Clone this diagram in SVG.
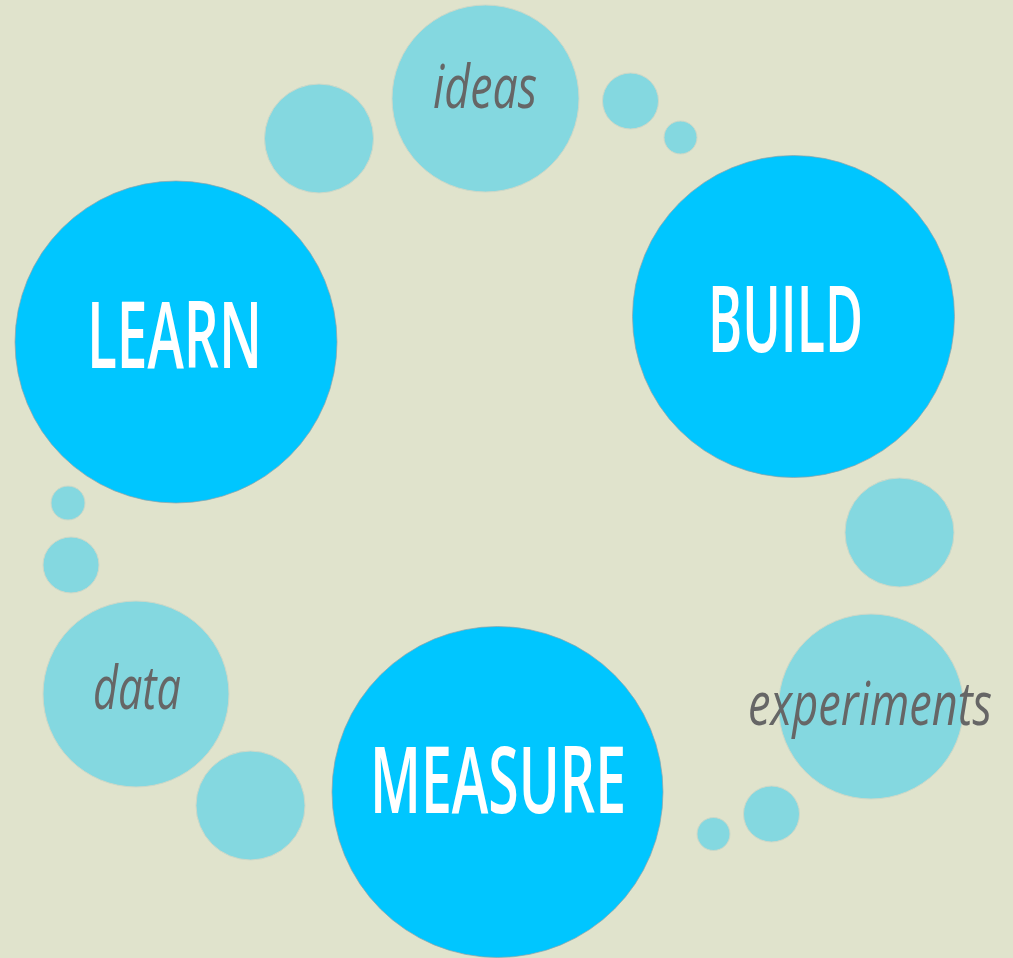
<svg xmlns="http://www.w3.org/2000/svg" width="1013" height="958" viewBox="0 0 1013 958">
<style>
.bg{fill:#E0E3CC}
.big{fill:#00C6FF;stroke:#8FA3A8;stroke-width:1;stroke-opacity:0.7}
.lite{fill:#84D8E0;stroke:#CDD8C8;stroke-width:1}
.main{font-family:"Open Sans","Liberation Sans",sans-serif;font-size:93px;fill:#FFFFFF;font-weight:600}
.lbl{font-family:"Open Sans","Liberation Sans",sans-serif;font-size:60px;font-style:italic;fill:#666666}
</style>
<rect class="bg" x="0" y="0" width="1013" height="958"/>
<g id="bubbles">
<circle class="lite" cx="630.5" cy="101" r="28"/>
<circle class="lite" cx="680.5" cy="137.5" r="16.5"/>
<circle class="lite" cx="319" cy="138.5" r="54.5"/>
<circle class="lite" cx="899.5" cy="532.5" r="54.5"/>
<circle class="lite" cx="771.5" cy="814" r="28"/>
<circle class="lite" cx="713.5" cy="834" r="16.5"/>
<circle class="lite" cx="68" cy="503" r="17"/>
<circle class="lite" cx="71" cy="565" r="28"/>
<circle class="lite" cx="250.5" cy="805.5" r="54.5"/>
</g>
<g id="ideas">
<circle class="lite" cx="485.5" cy="98.5" r="93.5"/>
<text class="lbl" x="433" y="108" textLength="104" lengthAdjust="spacingAndGlyphs">ideas</text>
</g>
<g id="experiments">
<circle class="lite" cx="871" cy="706.5" r="92.5"/>
<text class="lbl" x="748" y="725" textLength="244" lengthAdjust="spacingAndGlyphs">experiments</text>
</g>
<g id="data">
<circle class="lite" cx="136" cy="694" r="93"/>
<text class="lbl" x="93" y="709" textLength="88" lengthAdjust="spacingAndGlyphs">data</text>
</g>
<g id="learn">
<circle class="big" cx="176" cy="342" r="161"/>
<text class="main" x="87" y="368" textLength="175" lengthAdjust="spacingAndGlyphs">LEARN</text>
</g>
<g id="build">
<circle class="big" cx="793.5" cy="316.5" r="161"/>
<text class="main" x="708" y="352" textLength="155" lengthAdjust="spacingAndGlyphs">BUILD</text>
</g>
<g id="measure">
<circle class="big" cx="497.5" cy="792" r="165.5"/>
<text class="main" x="370" y="813" textLength="256" lengthAdjust="spacingAndGlyphs">MEASURE</text>
</g>
<g id="connectors"></g>
</svg>
